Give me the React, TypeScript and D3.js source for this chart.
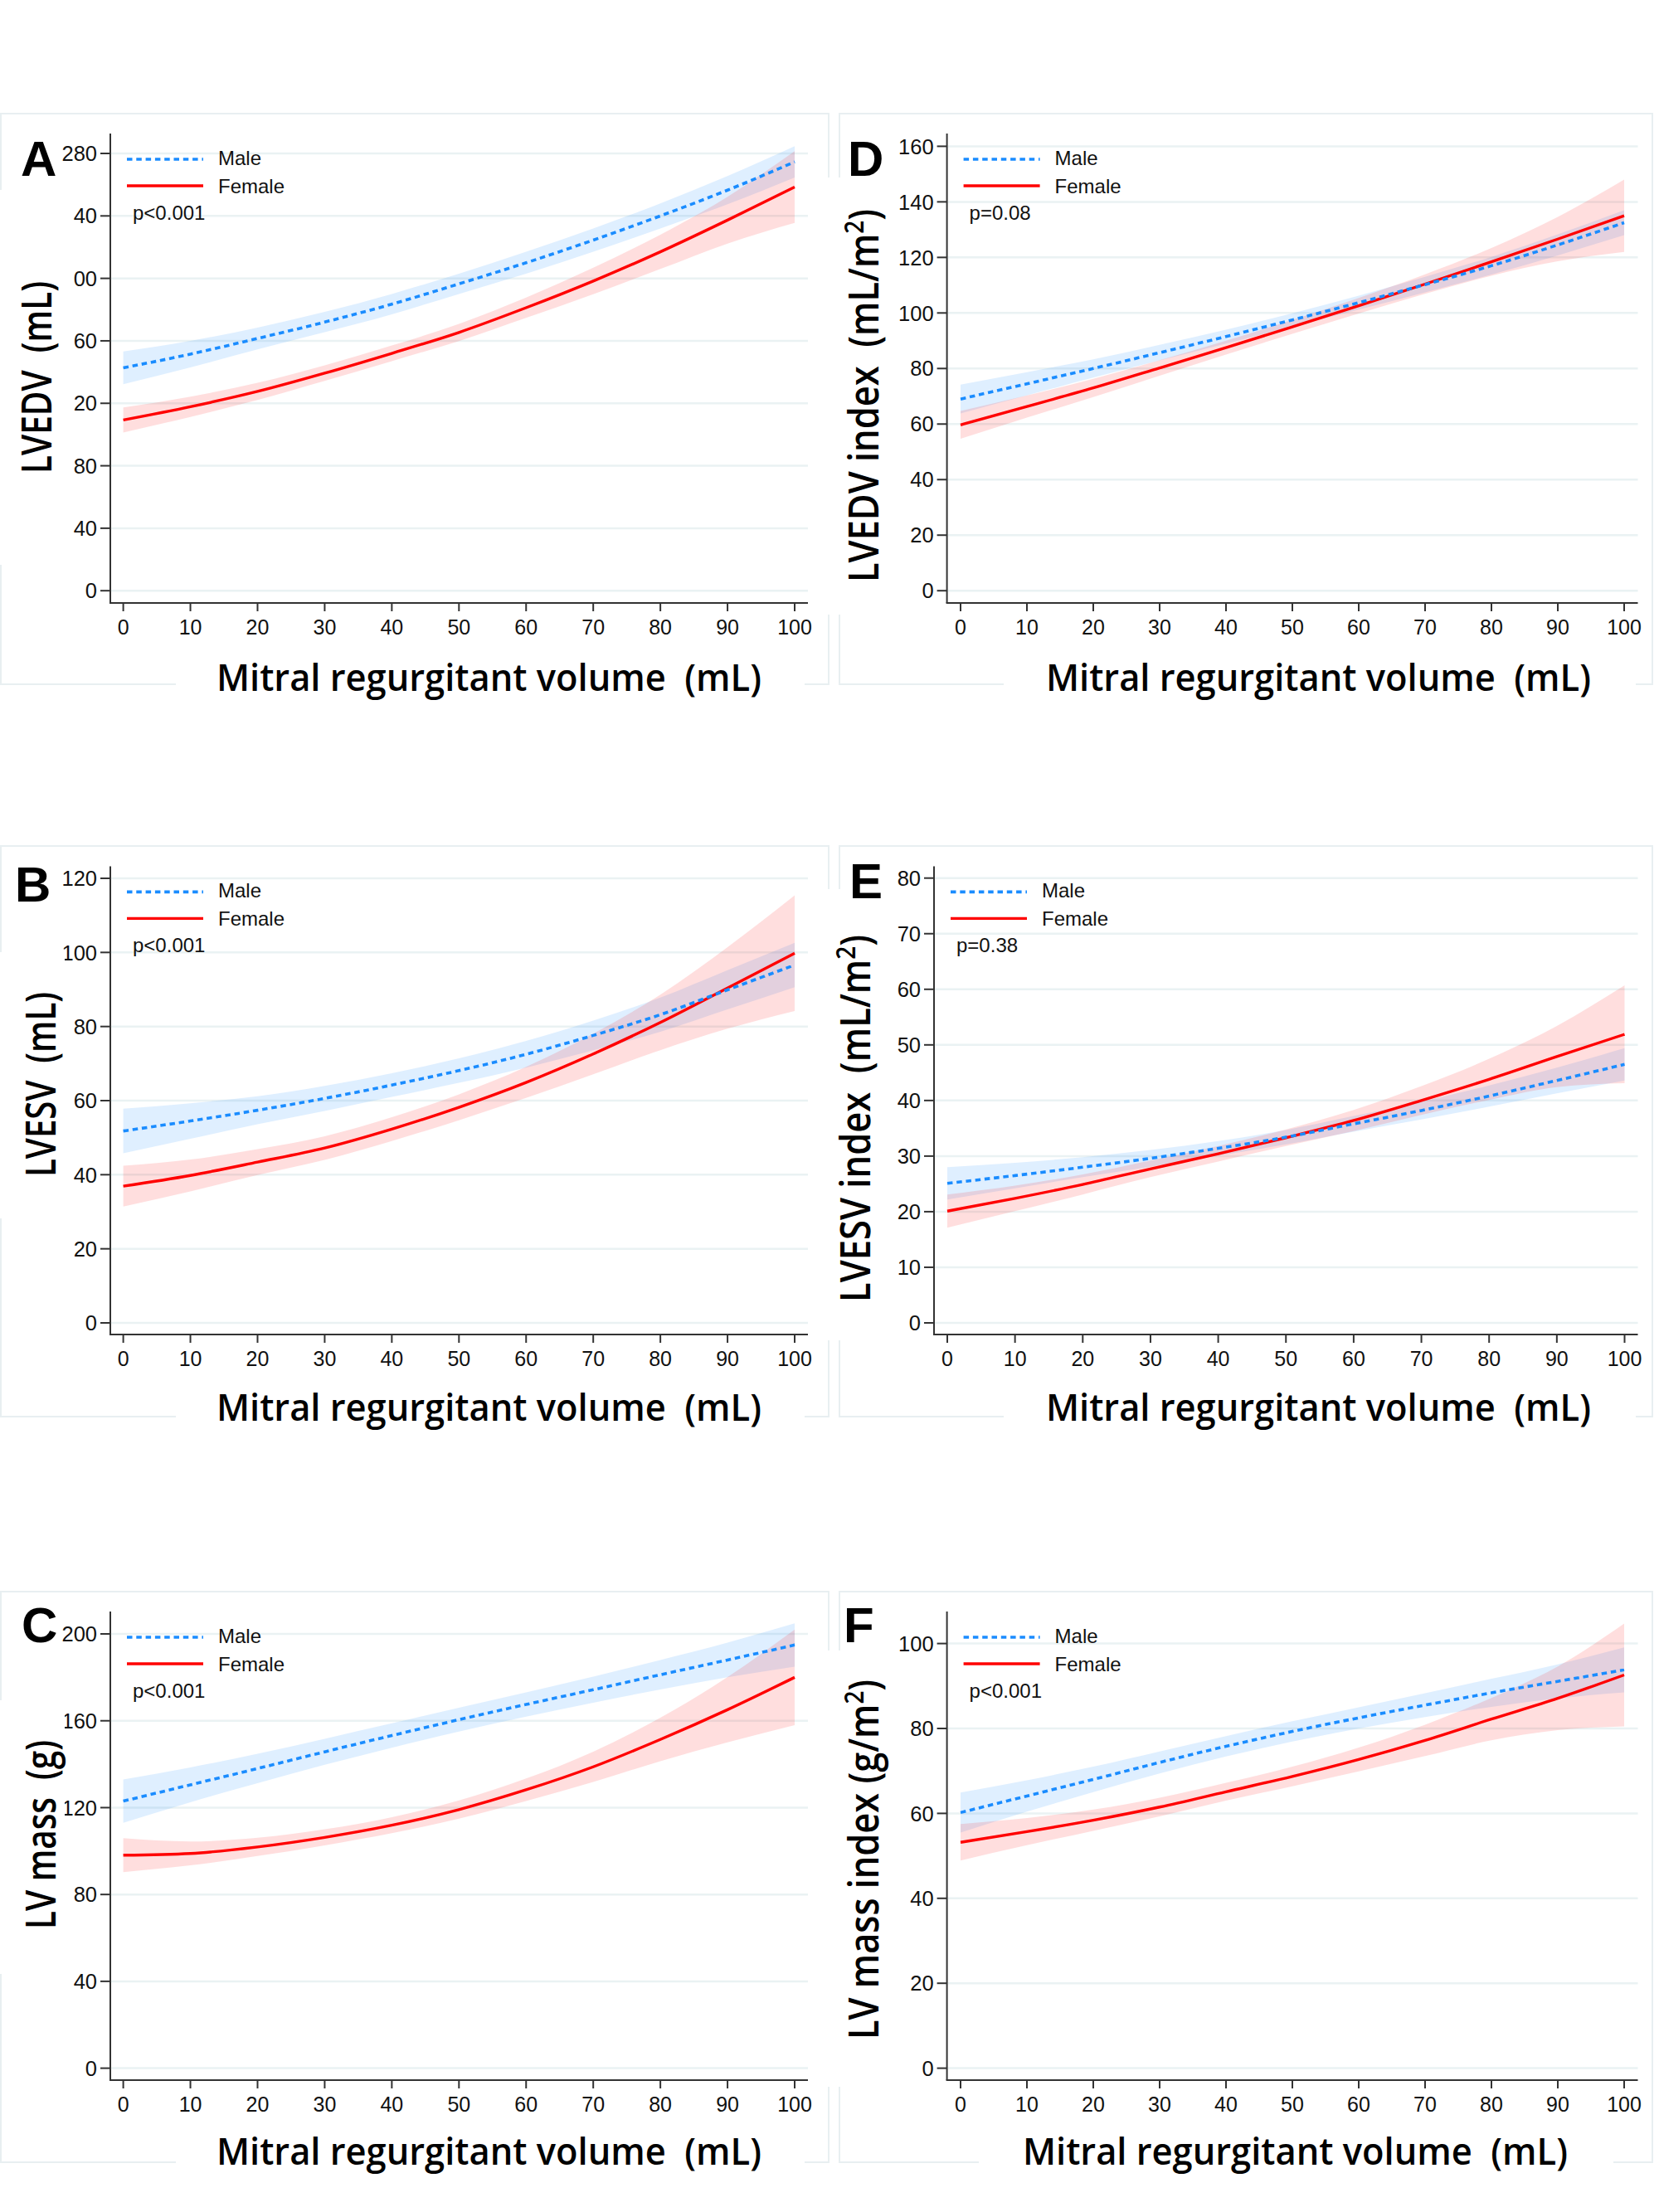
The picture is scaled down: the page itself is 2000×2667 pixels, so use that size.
import React, { useEffect } from 'react';
import * as d3 from 'd3';

// mitral regurgitant volume (mL) at which the curves were read
const mrv = [0, 10, 20, 30, 40, 50, 60, 70, 80, 90, 100];
const xTicks = [0, 10, 20, 30, 40, 50, 60, 70, 80, 90, 100];

// A: LVEDV
const lvedvMale = [142.7, 151.5, 161.5, 172, 183.5, 196.5, 210, 224.5, 240, 256.5, 274.6];
const lvedvMaleLo = [132.2, 143, 154.5, 165.5, 177, 190, 203, 217, 232, 247.5, 264.6];
const lvedvMaleHi = [153.2, 160, 168.5, 178.5, 190, 203, 217, 232, 248, 265.5, 284.6];
const lvedvFemale = [109.3, 117.8, 127.6, 139.3, 152, 165.4, 181.2, 198.3, 217, 237.3, 258.5];
const lvedvFemaleLo = [101.3, 111.3, 122.1, 134.3, 147, 159.9, 174.7, 189.8, 206, 222.3, 235.5];
const lvedvFemaleHi = [117.3, 124.3, 133.1, 144.3, 157, 170.9, 187.7, 206.8, 228, 252.3, 281.5];
const lvedvTicks = [0, 40, 80, 120, 160, 200, 240, 280];
const lvedvTickLabels = ['0', '40', '80', '20', '60', '00', '40', '280'];

// D: LVEDV index
const lvedviMale = [69, 74.5, 80, 85.7, 91.5, 97.5, 103.7, 110.2, 117, 124.5, 132.5];
const lvedviMaleLo = [63.8, 70.3, 76.7, 82.9, 89, 95.1, 101.2, 107.4, 113.8, 120.7, 128];
const lvedviMaleHi = [74.2, 78.7, 83.3, 88.5, 94, 99.9, 106.2, 113, 120.2, 128.3, 137];
const lvedviFemale = [59.7, 66.3, 73, 80.2, 87.5, 95, 102.6, 110.4, 118.4, 126.6, 135];
const lvedviFemaleLo = [54.7, 62.3, 69.7, 77.4, 85, 92.5, 99.8, 106.9, 113.4, 118.6, 122];
const lvedviFemaleHi = [64.7, 70.3, 76.3, 83, 90, 97.5, 105.4, 113.9, 123.4, 134.6, 148];
const lvedviTicks = [0, 20, 40, 60, 80, 100, 120, 140, 160];

// B: LVESV
const lvesvMale = [51.8, 54.5, 57.4, 60.6, 64.2, 68.1, 72.5, 77.6, 83.2, 89.9, 96.6];
const lvesvMaleLo = [45.8, 49.7, 53.6, 57.2, 61, 64.8, 68.9, 73.6, 78.6, 84.6, 90.6];
const lvesvMaleHi = [57.8, 59.3, 61.2, 64, 67.4, 71.4, 76.1, 81.6, 87.8, 95.2, 102.6];
const lvesvFemale = [36.9, 39.8, 43.4, 47.2, 52.3, 58.2, 64.9, 72.6, 81.1, 90.4, 99.8];
const lvesvFemaleLo = [31.4, 35.5, 39.9, 44, 49.1, 54.7, 60.7, 67.1, 73.6, 79.4, 84.2];
const lvesvFemaleHi = [42.4, 44.1, 46.9, 50.4, 55.5, 61.7, 69.1, 78.1, 88.6, 101.4, 115.4];
const lvesvTicks = [0, 20, 40, 60, 80, 100, 120];

// E: LVESV index
const lvesviMale = [25.1, 26.5, 28, 29.6, 31.4, 33.4, 35.8, 38.2, 40.8, 43.6, 46.5];
const lvesviMaleLo = [22.2, 24.2, 26.2, 28.1, 30.1, 32.1, 34.4, 36.6, 38.9, 41.3, 43.6];
const lvesviMaleHi = [28, 28.8, 29.8, 31.1, 32.7, 34.7, 37.2, 39.8, 42.7, 45.9, 49.4];
const lvesviFemale = [20.1, 22.4, 24.9, 27.7, 30.4, 33.3, 36.4, 40, 43.8, 47.9, 51.9];
const lvesviFemaleLo = [17.1, 20.1, 23.1, 26.2, 29, 31.8, 34.5, 37.4, 40.1, 42.4, 43.1];
const lvesviFemaleHi = [23.1, 24.7, 26.7, 29.2, 31.8, 34.8, 38.3, 42.6, 47.5, 53.4, 60.7];
const lvesviTicks = [0, 10, 20, 30, 40, 50, 60, 70, 80];

// C: LV mass
const massMale = [123, 130.5, 138, 145.7, 153.2, 160.5, 167.5, 174.3, 181.2, 188, 194.9];
const massMaleLo = [113, 122.5, 131.2, 139.7, 147.6, 155, 161.9, 168.3, 174.4, 180, 184.9];
const massMaleHi = [133, 138.5, 144.8, 151.7, 158.8, 166, 173.1, 180.3, 188, 196, 204.9];
const massFemale = [98.1, 98.9, 101.9, 106.3, 111.9, 119.1, 128.2, 138.8, 151.4, 165.1, 180];
const massFemaleLo = [90.3, 93.4, 97.7, 102.6, 108.2, 114.9, 123, 131.8, 141.4, 150.1, 158];
const massFemaleHi = [105.9, 104.4, 106.1, 110, 115.6, 123.3, 133.4, 145.8, 161.4, 180.1, 202];
const massTicks = [0, 40, 80, 120, 160, 200];

// F: LV mass index
const massiMale = [60.2, 64.1, 68, 72, 75.8, 79.3, 82.5, 85.5, 88.4, 91.1, 93.8];
const massiMaleLo = [55.5, 60.4, 65, 69.4, 73.4, 76.9, 80, 82.7, 85.1, 87.1, 88.5];
const massiMaleHi = [64.9, 67.8, 71, 74.6, 78.2, 81.7, 85, 88.3, 91.7, 95.1, 99.1];
const massiFemale = [53.2, 55.7, 58.4, 61.5, 65.1, 68.7, 72.7, 77.2, 82.2, 87.1, 92.6];
const massiFemaleLo = [48.9, 52.5, 55.9, 59.3, 63, 66.4, 69.9, 73.5, 77.2, 79.6, 80.5];
const massiFemaleHi = [57.5, 58.9, 60.9, 63.7, 67.2, 71, 75.5, 80.9, 87.2, 94.6, 104.7];
const massiTicks = [0, 20, 40, 60, 80, 100];

const BLUE = '#1a8cff';
const RED = '#ff0000';
const GRID = '#eaf2f3';
const FRAME = '#e8eff1';
const AXIS = '#333333';

const xLabelText = 'Mitral regurgitant volume  (mL)';

interface Panel {
  letter: string; letterX: number; letterY: number;
  yLabel: string; yLabelSup?: string; yLabelTail?: string;
  yLabelX: number; yLabelTop: number; yLabelBottom: number;
  axisX: number; x0: number; x100: number; right: number;
  plotTop: number; axisY: number; zeroY: number; topTickY: number;
  ticks: number[]; tickLabels?: string[];
  pText: string;
  xLabelLeft: number; xLabelRight: number; xLabelY: number;
  frame: number[]; yBox: number[]; xBox: number[];
  male: number[]; maleLo: number[]; maleHi: number[];
  female: number[]; femaleLo: number[]; femaleHi: number[];
}

const panels: Panel[] = [
  {
    letter: 'A', letterX: 25, letterY: 212,
    yLabel: 'LVEDV  (mL)', yLabelX: 62, yLabelTop: 339, yLabelBottom: 571,
    axisX: 133, x0: 148.6, x100: 958, right: 974,
    plotTop: 161, axisY: 727, zeroY: 712.2, topTickY: 185,
    ticks: lvedvTicks, tickLabels: lvedvTickLabels, pText: 'p<0.001',
    xLabelLeft: 261, xLabelRight: 918, xLabelY: 833,
    frame: [1, 137, 999, 825], yBox: [-5, 229, 78, 681], xBox: [212, 775, 970, 850],
    male: lvedvMale, maleLo: lvedvMaleLo, maleHi: lvedvMaleHi,
    female: lvedvFemale, femaleLo: lvedvFemaleLo, femaleHi: lvedvFemaleHi,
  },
  {
    letter: 'D', letterX: 1022, letterY: 212,
    yLabel: 'LVEDV index  (mL/m', yLabelSup: '2', yLabelTail: ')',
    yLabelX: 1059, yLabelTop: 252, yLabelBottom: 702,
    axisX: 1141.6, x0: 1158, x100: 1958, right: 1974.5,
    plotTop: 161, axisY: 727, zeroY: 712.2, topTickY: 176.4,
    ticks: lvedviTicks, pText: 'p=0.08',
    xLabelLeft: 1261, xLabelRight: 1918, xLabelY: 833,
    frame: [1012, 137, 1992, 825], yBox: [985, 214, 1076, 741], xBox: [1210, 775, 1972, 850],
    male: lvedviMale, maleLo: lvedviMaleLo, maleHi: lvedviMaleHi,
    female: lvedviFemale, femaleLo: lvedviFemaleLo, femaleHi: lvedviFemaleHi,
  },
  {
    letter: 'B', letterX: 18, letterY: 1087,
    yLabel: 'LVESV  (mL)', yLabelX: 67, yLabelTop: 1196, yLabelBottom: 1419,
    axisX: 133, x0: 148.6, x100: 958, right: 974,
    plotTop: 1044.4, axisY: 1609, zeroY: 1595, topTickY: 1059,
    ticks: lvesvTicks, pText: 'p<0.001',
    xLabelLeft: 261, xLabelRight: 918, xLabelY: 1712.5,
    frame: [1, 1020, 999, 1708], yBox: [-5, 1148, 78, 1469], xBox: [212, 1660, 970, 1730],
    male: lvesvMale, maleLo: lvesvMaleLo, maleHi: lvesvMaleHi,
    female: lvesvFemale, femaleLo: lvesvFemaleLo, femaleHi: lvesvFemaleHi,
  },
  {
    letter: 'E', letterX: 1024, letterY: 1083,
    yLabel: 'LVESV index  (mL/m', yLabelSup: '2', yLabelTail: ')',
    yLabelX: 1049, yLabelTop: 1127, yLabelBottom: 1570,
    axisX: 1126, x0: 1142, x100: 1958.5, right: 1974.5,
    plotTop: 1044.4, axisY: 1609, zeroY: 1595, topTickY: 1058.7,
    ticks: lvesviTicks, pText: 'p=0.38',
    xLabelLeft: 1261, xLabelRight: 1918, xLabelY: 1712.5,
    frame: [1012, 1020, 1992, 1708], yBox: [985, 1072, 1074, 1616], xBox: [1210, 1660, 1972, 1730],
    male: lvesviMale, maleLo: lvesviMaleLo, maleHi: lvesviMaleHi,
    female: lvesviFemale, femaleLo: lvesviFemaleLo, femaleHi: lvesviFemaleHi,
  },
  {
    letter: 'C', letterX: 26, letterY: 1980,
    yLabel: 'LV mass  (g)', yLabelX: 67, yLabelTop: 2098, yLabelBottom: 2326,
    axisX: 133, x0: 148.6, x100: 958, right: 974,
    plotTop: 1943, axisY: 2508, zeroY: 2493.6, topTickY: 1970,
    ticks: massTicks, pText: 'p<0.001',
    xLabelLeft: 261, xLabelRight: 918, xLabelY: 2610,
    frame: [1, 1919, 999, 2607], yBox: [-5, 2050, 78, 2380], xBox: [212, 2560, 970, 2630],
    male: massMale, maleLo: massMaleLo, maleHi: massMaleHi,
    female: massFemale, femaleLo: massFemaleLo, femaleHi: massFemaleHi,
  },
  {
    letter: 'F', letterX: 1017, letterY: 1980,
    yLabel: 'LV mass index (g/m', yLabelSup: '2', yLabelTail: ')',
    yLabelX: 1059, yLabelTop: 2025, yLabelBottom: 2459,
    axisX: 1141.6, x0: 1158, x100: 1958, right: 1974.5,
    plotTop: 1943, axisY: 2508, zeroY: 2493.6, topTickY: 1981.6,
    ticks: massiTicks, pText: 'p<0.001',
    xLabelLeft: 1233, xLabelRight: 1890, xLabelY: 2610,
    frame: [1012, 1919, 1992, 2607], yBox: [985, 1990, 1076, 2516], xBox: [1180, 2560, 1945, 2630],
    male: massiMale, maleLo: massiMaleLo, maleHi: massiMaleHi,
    female: massiFemale, femaleLo: massiFemaleLo, femaleHi: massiFemaleHi,
  },
];

const sans = '"Liberation Sans", Arial, sans-serif';
const labelFont = '"Open Sans", "Noto Sans", sans-serif';

function PanelChart({ p }: { p: Panel }) {
  const x = d3.scaleLinear().domain([0, 100]).range([p.x0, p.x100]);
  const topTick = p.ticks[p.ticks.length - 1];
  const y = d3.scaleLinear().domain([0, topTick]).range([p.zeroY, p.topTickY]);

  const band = (lo: number[], hi: number[]) =>
    d3.area<number>()
      .x((d) => x(d))
      .y0((_, i) => y(lo[i]))
      .y1((_, i) => y(hi[i]))
      .curve(d3.curveMonotoneX)(mrv) || '';
  const curve = (vals: number[]) =>
    d3.line<number>()
      .x((d) => x(d))
      .y((_, i) => y(vals[i]))
      .curve(d3.curveMonotoneX)(mrv) || '';

  const [fx0, fy0, fx1, fy1] = p.frame;
  const lx = p.axisX + 20;
  const lx2 = p.axisX + 112;
  const yMid = (p.yLabelTop + p.yLabelBottom) / 2;

  return (
    <g>
      {/* faint outer frame of the pasted panel, partly hidden by the label boxes */}
      <rect x={fx0} y={fy0} width={fx1 - fx0} height={fy1 - fy0} fill="none" stroke={FRAME} strokeWidth={2} />

      {/* grid */}
      {p.ticks.map((t) => (
        <line key={'g' + t} x1={p.axisX} x2={p.right} y1={y(t)} y2={y(t)} stroke={GRID} strokeWidth={2.5} />
      ))}

      {/* confidence bands */}
      <path d={band(p.maleLo, p.maleHi)} fill={BLUE} fillOpacity={0.14} />
      <path d={band(p.femaleLo, p.femaleHi)} fill={RED} fillOpacity={0.13} />

      {/* fitted curves */}
      <path d={curve(p.female)} fill="none" stroke={RED} strokeWidth={3.4} />
      <path d={curve(p.male)} fill="none" stroke={BLUE} strokeWidth={3.6} strokeDasharray="6.5 4.8" />

      {/* axes */}
      <line x1={p.axisX} x2={p.axisX} y1={p.plotTop} y2={p.axisY} stroke={AXIS} strokeWidth={2} />
      <line x1={p.axisX - 1} x2={p.right} y1={p.axisY} y2={p.axisY} stroke={AXIS} strokeWidth={2} />
      {p.ticks.map((t, i) => (
        <g key={'yt' + t}>
          <line x1={p.axisX - 12} x2={p.axisX} y1={y(t)} y2={y(t)} stroke={AXIS} strokeWidth={2} />
          <text x={p.axisX - 16} y={y(t)} dy="0.36em" textAnchor="end" fontFamily={sans} fontSize={25.5} fill="#111">
            {p.tickLabels ? p.tickLabels[i] : String(t)}
          </text>
        </g>
      ))}
      {xTicks.map((t) => (
        <g key={'xt' + t}>
          <line x1={x(t)} x2={x(t)} y1={p.axisY} y2={p.axisY + 10} stroke={AXIS} strokeWidth={2} />
          <text x={x(t)} y={p.axisY + 38} textAnchor="middle" fontFamily={sans} fontSize={25} fill="#111">
            {t}
          </text>
        </g>
      ))}

      {/* legend */}
      <line x1={lx} x2={lx2} y1={p.plotTop + 31} y2={p.plotTop + 31} stroke={BLUE} strokeWidth={3.6} strokeDasharray="6.5 4.8" />
      <line x1={lx} x2={lx2} y1={p.plotTop + 63} y2={p.plotTop + 63} stroke={RED} strokeWidth={3.4} />
      <text x={p.axisX + 130} y={p.plotTop + 38} fontFamily={sans} fontSize={24} fill="#111">Male</text>
      <text x={p.axisX + 130} y={p.plotTop + 72} fontFamily={sans} fontSize={24} fill="#111">Female</text>
      <text x={p.axisX + 27} y={p.plotTop + 104} fontFamily={sans} fontSize={24} fill="#111">{p.pText}</text>

      {/* white boxes of the pasted axis titles */}
      <rect x={p.yBox[0]} y={p.yBox[1]} width={p.yBox[2] - p.yBox[0]} height={p.yBox[3] - p.yBox[1]} fill="#fff" />
      <rect x={p.xBox[0]} y={p.xBox[1]} width={p.xBox[2] - p.xBox[0]} height={p.xBox[3] - p.xBox[1]} fill="#fff" />

      {/* axis titles */}
      <text
        transform={`translate(${p.yLabelX},${yMid}) rotate(-90)`}
        textAnchor="middle"
        fontFamily={labelFont}
        fontWeight={600}
        fontSize={50}
        fill="#000"
        textLength={p.yLabelBottom - p.yLabelTop}
        lengthAdjust="spacingAndGlyphs"
        style={{ whiteSpace: 'pre' }}
      >
        <tspan>{p.yLabel}</tspan>
        {p.yLabelSup && <tspan dy={-18} fontSize={32}>{p.yLabelSup}</tspan>}
        {p.yLabelTail && <tspan dy={18}>{p.yLabelTail}</tspan>}
      </text>
      <text
        x={(p.xLabelLeft + p.xLabelRight) / 2}
        y={p.xLabelY}
        textAnchor="middle"
        fontFamily={labelFont}
        fontWeight={600}
        fontSize={46}
        fill="#000"
        textLength={p.xLabelRight - p.xLabelLeft}
        lengthAdjust="spacingAndGlyphs"
        style={{ whiteSpace: 'pre' }}
      >
        {xLabelText}
      </text>

      {/* panel letter */}
      <text x={p.letterX} y={p.letterY} fontFamily={sans} fontWeight="bold" fontSize={60} fill="#000">
        {p.letter}
      </text>
    </g>
  );
}

export default function App() {
  useEffect(() => {
    document.body.style.margin = '0';
  }, []);
  return (
    <svg width={2000} height={2667} viewBox="0 0 2000 2667" style={{ display: 'block', background: '#fff' }}>
      <rect x={0} y={0} width={2000} height={2667} fill="#fff" />
      {panels.map((p) => (
        <PanelChart key={p.letter} p={p} />
      ))}
    </svg>
  );
}
